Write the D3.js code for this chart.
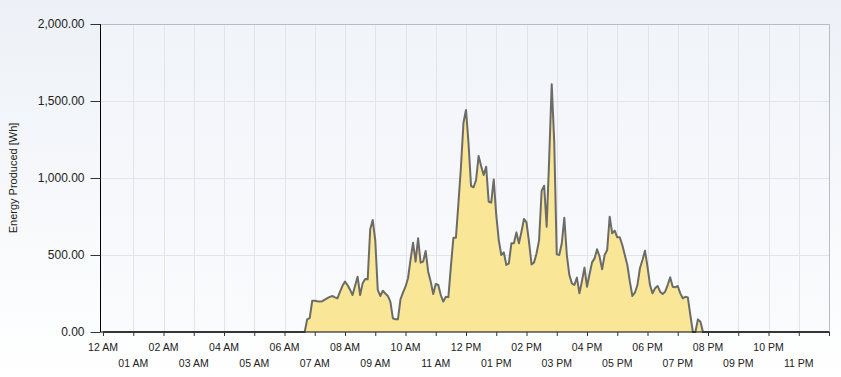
<!DOCTYPE html>
<html>
<head>
<meta charset="utf-8">
<script src="https://cdn.jsdelivr.net/npm/d3@7"></script>
<style>
  body{margin:0;padding:0;overflow:hidden;}
  svg{display:block;font-family:"Liberation Sans",Arial,sans-serif;}
</style>
</head>
<body>
<script>
// readings every 5 minutes (HH:MM) and energy in Wh
const times=["00:00","06:40","06:45","06:50","06:55","07:00","07:05","07:10","07:15","07:20","07:25","07:30","07:35","07:40","07:45","07:50","07:55",
"08:00","08:05","08:10","08:15","08:20","08:25","08:30","08:35","08:40","08:45","08:50","08:55",
"09:00","09:05","09:10","09:15","09:20","09:25","09:30","09:35","09:40","09:45","09:50","09:55",
"10:00","10:05","10:10","10:15","10:20","10:25","10:30","10:35","10:40","10:45","10:50","10:55",
"11:00","11:05","11:10","11:15","11:20","11:25","11:30","11:35","11:40","11:45","11:50","11:55",
"12:00","12:05","12:10","12:15","12:20","12:25","12:30","12:35","12:40","12:45","12:50","12:55",
"13:00","13:05","13:10","13:15","13:20","13:25","13:30","13:35","13:40","13:45","13:50","13:55",
"14:00","14:05","14:10","14:15","14:20","14:25","14:30","14:35","14:40","14:45","14:50","14:55",
"15:00","15:05","15:10","15:15","15:20","15:25","15:30","15:35","15:40","15:45","15:50","15:55",
"16:00","16:05","16:10","16:15","16:20","16:25","16:30","16:35","16:40","16:45","16:50","16:55",
"17:00","17:05","17:10","17:15","17:20","17:25","17:30","17:35","17:40","17:45","17:50","17:55",
"18:00","18:05","18:10","18:15","18:20","18:25","18:30","18:35","18:40","18:45","18:50","18:55",
"19:00","19:05","19:10","19:15","19:20","19:25","19:30","19:35","19:40","19:45","19:50","24:00"]

const energy=[0,0,82,90,203,203,200,198,200,210,220,228,234,225,219,260,300,
327,305,275,240,300,359,240,316,344,342,667,727,
597,273,234,268,250,234,197,89,82,82,212,255,
294,349,470,580,457,608,450,457,526,392,327,247,
312,305,240,197,229,225,424,612,612,836,1073,1359,
1442,1225,948,940,987,1143,1078,1020,1073,846,840,991,
760,597,500,517,435,446,576,576,647,576,651,734,
712,586,439,452,511,597,916,950,684,1128,1608,1236,
504,500,576,742,500,370,316,305,353,251,331,418,
294,375,452,478,537,489,407,500,532,749,641,658,
615,615,565,500,435,327,234,255,305,414,468,528,
424,305,251,284,299,262,247,262,305,355,294,290,
299,251,219,229,225,110,0,0,82,67,0,0]

const yTicks=[0,500,1000,1500,2000]
const hourLabels=["12 AM","01 AM","02 AM","03 AM","04 AM","05 AM","06 AM","07 AM","08 AM","09 AM","10 AM","11 AM",
"12 PM","01 PM","02 PM","03 PM","04 PM","05 PM","06 PM","07 PM","08 PM","09 PM","10 PM","11 PM"]

const width=841
const height=377
const plotLeft=100.5, plotRight=829.5, plotTop=24, plotBottom=332

const toMin=(t)=>{const p=t.split(":");return +p[0]*60+ +p[1]}
const datos=times.map((t,i)=>({m:toMin(t),v:energy[i]}))

const svg=d3.select("body").append("svg")
  .attr("width",width)
  .attr("height",height)

const defs=svg.append("defs")
const bg=defs.append("linearGradient").attr("id","bg").attr("x1",0).attr("y1",0).attr("x2",0).attr("y2",1)
bg.append("stop").attr("offset","0%").attr("stop-color","#edf1f7")
bg.append("stop").attr("offset","100%").attr("stop-color","#ffffff")
const pg=defs.append("linearGradient").attr("id","pg").attr("x1",0).attr("y1",0).attr("x2",0).attr("y2",1)
pg.append("stop").attr("offset","0%").attr("stop-color","#f1f4f9")
pg.append("stop").attr("offset","100%").attr("stop-color","#fafbfd")

svg.append("rect").attr("width",width).attr("height",height).attr("fill","url(#bg)")
svg.append("rect")
  .attr("x",plotLeft).attr("y",plotTop)
  .attr("width",plotRight-plotLeft).attr("height",plotBottom-plotTop)
  .attr("fill","url(#pg)")

// escalas
const x=d3.scaleLinear().domain([0,1440]).range([103,829])
const y=d3.scaleLinear().domain([0,2000]).range([plotBottom,plotTop])

const hours=d3.range(0,25)

// grid
svg.append("g").selectAll("line").data(hours.slice(1)).enter().append("line")
  .attr("x1",d=>Math.round(x(d*60))+0.5).attr("x2",d=>Math.round(x(d*60))+0.5)
  .attr("y1",plotTop).attr("y2",plotBottom)
  .attr("stroke","#e2e4e9")
svg.append("g").selectAll("line").data(yTicks.slice(1,-1)).enter().append("line")
  .attr("x1",plotLeft).attr("x2",plotRight)
  .attr("y1",d=>Math.round(y(d))+0.5).attr("y2",d=>Math.round(y(d))+0.5)
  .attr("stroke","#e2e4e9")

// borde arriba y derecha
svg.append("path")
  .attr("d",`M${plotLeft},${plotTop+0.5}H${plotRight}V${plotBottom}`)
  .attr("fill","none").attr("stroke","#b9bcc2")

// area + linea
const area=d3.area().x(d=>x(d.m)).y0(y(0)).y1(d=>y(d.v))
const line=d3.line().x(d=>x(d.m)).y(d=>y(d.v))
svg.append("path").datum(datos).attr("d",area).attr("fill","#f9e697")
svg.append("path").datum(datos).attr("d",line)
  .attr("fill","none").attr("stroke","#6b6b68").attr("stroke-width",2).attr("stroke-linejoin","round")

// eje Y
const y_axis=d3.axisLeft(y).tickValues(yTicks).tickSize(10).tickPadding(6).tickFormat(d3.format(",.2f"))
const gy=svg.append("g").attr("transform",`translate(${plotLeft},0)`).call(y_axis)
gy.select(".domain").attr("stroke","#000").attr("d",`M0,${plotTop}V${plotBottom}`)
gy.selectAll(".tick line").attr("stroke","#333")
gy.selectAll("text").attr("font-size",12).attr("fill","#222").attr("font-family","Liberation Sans, Arial")

// eje X
const x_axis=d3.axisBottom(x).tickValues(hours.map(h=>h*60)).tickSize(4).tickFormat("")
const gx=svg.append("g").attr("transform",`translate(0,${plotBottom})`).call(x_axis)
gx.select(".domain").attr("stroke","#000").attr("d",`M${plotLeft},0H${plotRight}`)
gx.selectAll(".tick line").attr("stroke","#333")

svg.append("g").selectAll("text").data(hourLabels).enter().append("text")
  .attr("x",(d,i)=>x(i*60))
  .attr("y",(d,i)=>i%2==0?351:367)
  .attr("text-anchor","middle")
  .attr("font-size",10.5)
  .attr("fill","#222")
  .text(d=>d)

svg.append("text")
  .attr("transform",`translate(17,${(plotTop+plotBottom)/2}) rotate(-90)`)
  .attr("text-anchor","middle")
  .attr("font-size",11)
  .attr("fill","#222")
  .text("Energy Produced [Wh]")
</script>
</body>
</html>
